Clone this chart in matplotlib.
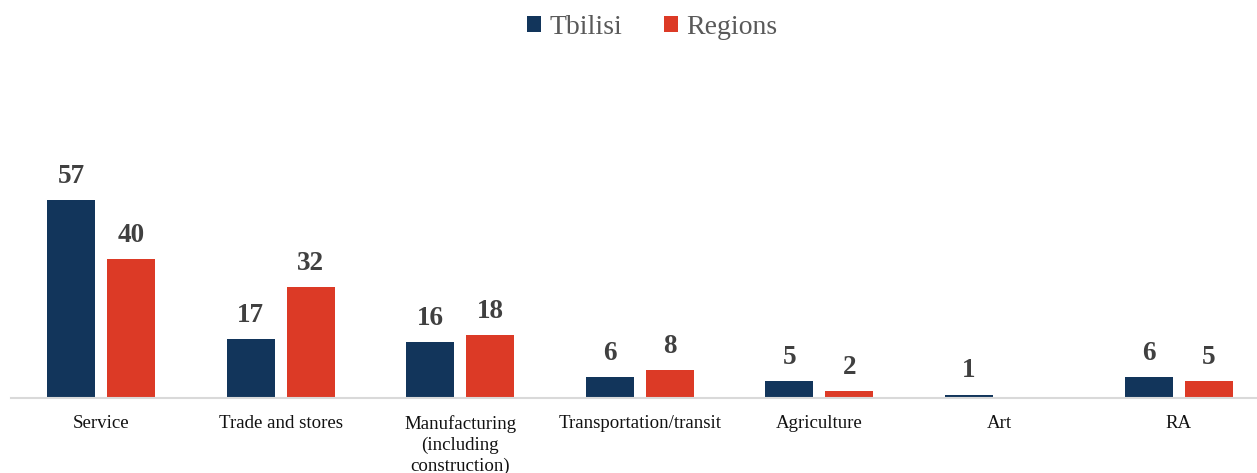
import numpy as np
import matplotlib.pyplot as plt

categories = ['Service', 'Trade and stores', 'Manufacturing\n(including\nconstruction)',
              'Transportation/transit', 'Agriculture', 'Art', 'RA']
tbilisi = [57, 17, 16, 6, 5, 1, 6]
regions = [40, 32, 18, 8, 2, np.nan, 5]

navy = '#12355B'
red = '#DC3A26'

plt.rcParams['font.family'] = ['Liberation Serif', 'DejaVu Serif']

fig = plt.figure(figsize=(12.57, 4.73), dpi=100)
ax = fig.add_axes([11.2 / 1257, 75 / 473, 1 - 11.2 / 1257, 313 / 473])

x = np.arange(len(categories))
w = 0.267
off = 0.167
b1 = ax.bar(x - off, tbilisi, w, color=navy, label='Tbilisi')
b2 = ax.bar(x + off, regions, w, color=red, label='Regions')

lab1 = [str(v) for v in tbilisi]
lab2 = ['' if np.isnan(v) else str(int(v)) for v in regions]
ax.bar_label(b1, labels=lab1, padding=8, fontsize=19.5, fontweight='bold', color='#404040')
ax.bar_label(b2, labels=lab2, padding=8, fontsize=19.5, fontweight='bold', color='#404040')

ax.set_xlim(-0.5, (1257 - 11.2) / 179.6 - 0.5)
ax.set_ylim(0, 90)
ax.set_xticks(x)
ax.set_xticklabels(categories, fontsize=13.6, color='#111111', linespacing=1.3)
ax.tick_params(axis='x', length=0, pad=12)
ax.set_yticks([])
for s in ['top', 'right', 'left']:
    ax.spines[s].set_visible(False)
ax.spines['bottom'].set_color('#D9D9D9')
ax.spines['bottom'].set_linewidth(1.5)

fig.legend(loc='upper center', bbox_to_anchor=(0.519, 1.022), ncol=2, frameon=False,
           fontsize=20, handlelength=0.5, handleheight=0.5, handletextpad=0.3,
           columnspacing=1.5, labelcolor='#595959')

fig.savefig('out.png', dpi=100)
